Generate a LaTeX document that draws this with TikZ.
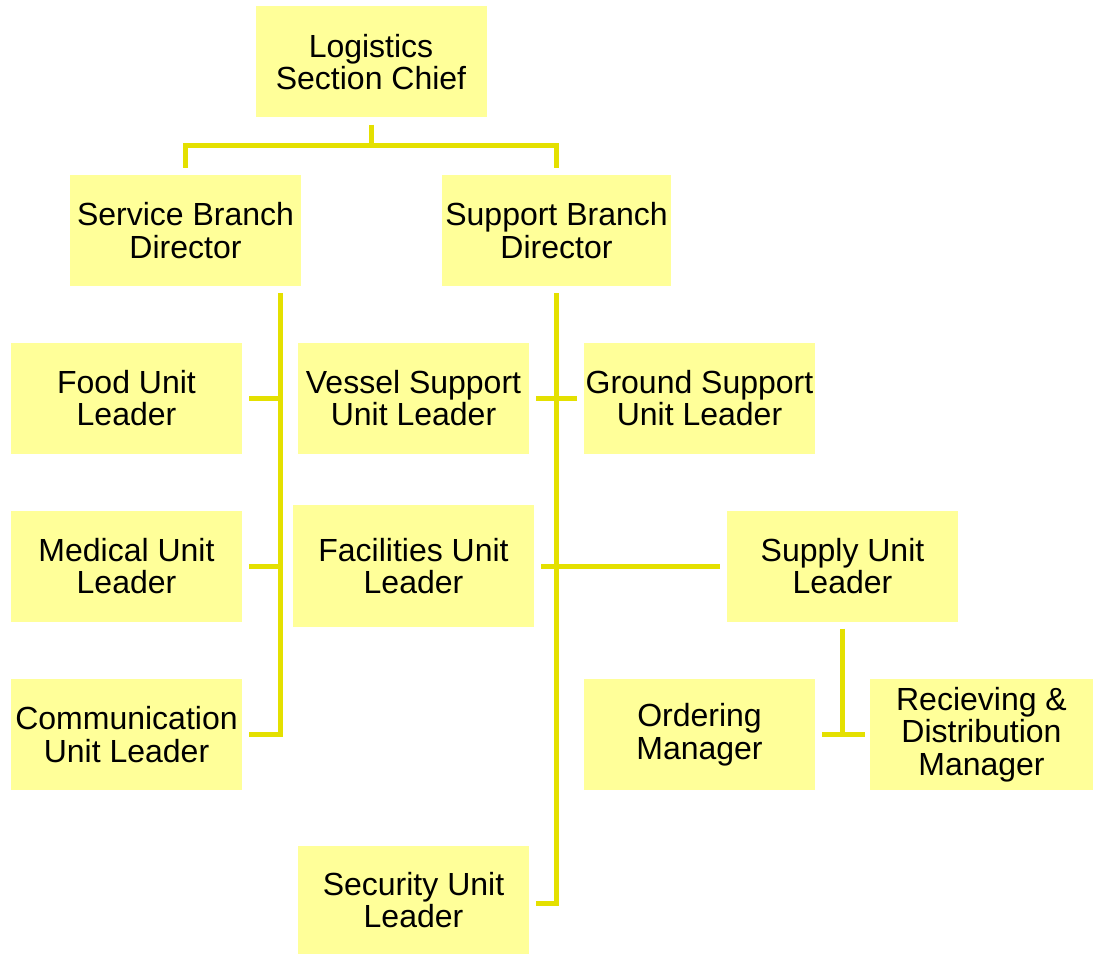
\documentclass[tikz,border=0pt]{standalone}
\usepackage{fontspec}
\setmainfont{Liberation Sans}
\definecolor{boxfill}{RGB}{255,255,153}
\definecolor{linecol}{RGB}{228,224,0}
\begin{document}
\begin{tikzpicture}[x=1pt,y=-1pt,
  box/.style={fill=boxfill, draw=none, inner sep=0pt, minimum width=231pt, minimum height=111pt,
    align=center, font=\fontsize{32}{32.5}\selectfont},
  conn/.style={draw=linecol, line width=5pt, line join=miter}]
\useasboundingbox (0,0) rectangle (1093,955);
\node[box] (log) at (371,62) {Logistics\\Section Chief};
\node[box] (serv) at (185.5,230.5) {Service Branch\\Director};
\node[box, minimum width=229pt] (supp) at (556.5,230.5) {Support Branch\\Director};
\node[box] (food) at (126.5,398) {Food Unit\\Leader};
\node[box] (ves) at (413.5,398) {Vessel Support\\Unit Leader};
\node[box] (gro) at (699.5,398) {Ground Support\\Unit Leader};
\node[box] (med) at (126.5,566) {Medical Unit\\Leader};
\node[box, minimum width=241pt, minimum height=122pt] (fac) at (413.5,566) {Facilities Unit\\Leader};
\node[box] (sup) at (842.5,566) {Supply Unit\\Leader};
\node[box] (comm) at (126.5,734.5) {Communication\\Unit Leader};
\node[box] (ord) at (699.5,734.5) {Ordering\\Manager};
\node[box, minimum width=223pt] (rec) at (981.5,734.5) {Recieving \&\\Distribution\\Manager};
\node[box, minimum height=108pt] (sec) at (413.5,900) {Security Unit\\Leader};
% top bus
\coordinate (b1) at (371,146);
\draw[conn] ([yshift=-7pt]log.south) -- (b1);
\draw[conn] ([yshift=7pt]serv.north) |- (b1) -| ([yshift=7pt]supp.north);
% service trunk
\coordinate (st) at (280,293);
\draw[conn] (st) |- ([xshift=7pt]comm.east);
\draw[conn] ([xshift=7pt]food.east) -- (food.east -| st);
\draw[conn] ([xshift=7pt]med.east) -- (med.east -| st);
% support trunk
\coordinate (pt) at (556,293);
\draw[conn] (pt) |- ([xshift=7pt,yshift=-3pt]sec.east);
\draw[conn] ([xshift=7pt]ves.east) -- ([xshift=-7pt]gro.west);
\draw[conn] ([xshift=7pt]fac.east) -- ([xshift=-7pt]sup.west);
% supply
\draw[conn] ([yshift=-7pt]sup.south) -- (sup.south |- ord.east);
\draw[conn] ([xshift=7pt]ord.east) -- ([xshift=-5pt]rec.west);
\end{tikzpicture}
\end{document}
